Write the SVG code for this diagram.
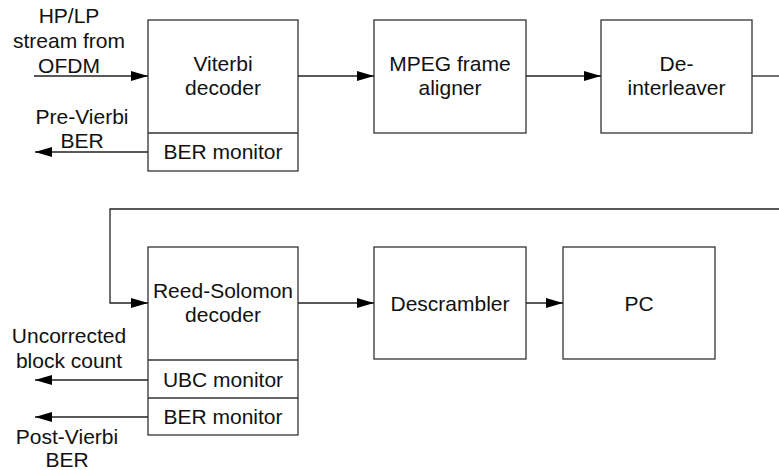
<svg xmlns="http://www.w3.org/2000/svg" width="779" height="470" viewBox="0 0 779 470">
<style>
.box{fill:#fff;stroke:#333;stroke-width:1.3}
.div{stroke:#333;stroke-width:1.3;fill:none}
.ln{stroke:#222;stroke-width:1.3;fill:none}
text{font-family:"Liberation Sans",Arial,sans-serif;font-size:21px;fill:#111;text-anchor:middle}
</style>
<defs>
<marker id="ah" markerWidth="17" markerHeight="10" refX="17" refY="5" orient="auto" markerUnits="userSpaceOnUse">
<path d="M0,0 L17,5 L0,10 Z" fill="#000"/>
</marker>
</defs>
<g id="viterbi">
<rect class="box" x="148" y="20" width="150" height="151"/>
<line class="div" x1="148" y1="133" x2="298" y2="133"/>
<text x="223" y="71">Viterbi</text>
<text x="223" y="95">decoder</text>
<text x="223" y="159">BER monitor</text>
</g>
<g id="mpeg">
<rect class="box" x="374" y="20" width="152" height="113"/>
<text x="450" y="71">MPEG frame</text>
<text x="450" y="95">aligner</text>
</g>
<g id="deinterleaver">
<rect class="box" x="601" y="20" width="151" height="113"/>
<text x="676.5" y="71">De-</text>
<text x="676.5" y="95">interleaver</text>
</g>
<g id="reedsolomon">
<rect class="box" x="148" y="247" width="150" height="188"/>
<line class="div" x1="148" y1="360" x2="298" y2="360"/>
<line class="div" x1="148" y1="398" x2="298" y2="398"/>
<text x="223" y="298">Reed-Solomon</text>
<text x="223" y="322">decoder</text>
<text x="223" y="387">UBC monitor</text>
<text x="223" y="424">BER monitor</text>
</g>
<g id="descrambler">
<rect class="box" x="374" y="247" width="152" height="112"/>
<text x="450" y="311">Descrambler</text>
</g>
<g id="pc">
<rect class="box" x="563" y="247" width="152" height="112"/>
<text x="639" y="311">PC</text>
</g>
<g id="labels">
<text x="69" y="23">HP/LP</text>
<text x="69" y="48">stream from</text>
<text x="69" y="73">OFDM</text>
<text x="82" y="124">Pre-Vierbi</text>
<text x="82" y="148">BER</text>
<text x="69" y="343">Uncorrected</text>
<text x="69" y="368">block count</text>
<text x="67" y="444">Post-Vierbi</text>
<text x="67" y="467">BER</text>
</g>
<g id="connectors">
<line class="ln" x1="34" y1="76" x2="148" y2="76" marker-end="url(#ah)"/>
<line class="ln" x1="298" y1="76" x2="374" y2="76" marker-end="url(#ah)"/>
<line class="ln" x1="526" y1="76" x2="601" y2="76" marker-end="url(#ah)"/>
<line class="ln" x1="752" y1="76" x2="779" y2="76"/>
<polyline class="ln" points="779,209 110,209 110,303 148,303" marker-end="url(#ah)"/>
<line class="ln" x1="298" y1="303" x2="374" y2="303" marker-end="url(#ah)"/>
<line class="ln" x1="526" y1="303" x2="563" y2="303" marker-end="url(#ah)"/>
<line class="ln" x1="148" y1="152" x2="35" y2="152" marker-end="url(#ah)"/>
<line class="ln" x1="148" y1="380" x2="35" y2="380" marker-end="url(#ah)"/>
<line class="ln" x1="148" y1="417" x2="35" y2="417" marker-end="url(#ah)"/>
</g>
</svg>
